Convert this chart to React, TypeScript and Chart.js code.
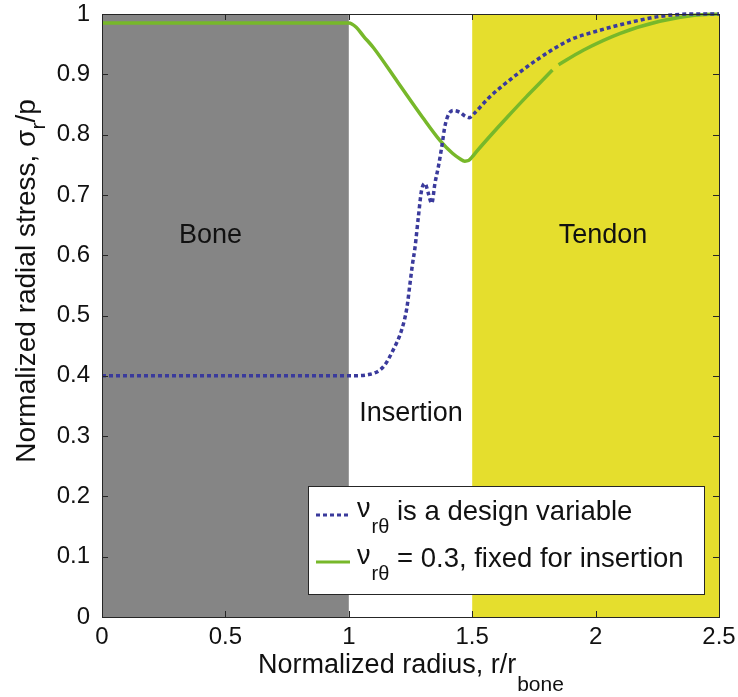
import React, { useEffect, useRef } from "react";
import { Chart, registerables } from "chart.js";

Chart.register(...registerables);

// ---- data ----
const blueX = [0, 0.5, 1.0, 1.08, 1.14, 1.18, 1.214, 1.235, 1.248, 1.258, 1.268, 1.282, 1.295, 1.309, 1.322, 1.336, 1.349, 1.363, 1.376, 1.39, 1.405, 1.425, 1.45, 1.47, 1.488, 1.51, 1.57, 1.626, 1.762, 1.896, 2.0, 2.099, 2.26, 2.39, 2.5];
const blueY = [0.4, 0.4, 0.4, 0.402, 0.415, 0.443, 0.476, 0.512, 0.553, 0.585, 0.612, 0.664, 0.708, 0.719, 0.703, 0.686, 0.719, 0.747, 0.778, 0.815, 0.834, 0.84, 0.837, 0.831, 0.828, 0.836, 0.862, 0.882, 0.924, 0.957, 0.971, 0.982, 0.996, 1.0, 1.0];

const greenX = [0, 0.5, 1.0, 1.03, 1.06, 1.1, 1.2, 1.3, 1.37, 1.42, 1.45, 1.47, 1.485, 1.5, 1.52, 1.58, 1.64, 1.72, 1.775, 1.825, 1.838, 1.85, 1.95, 2.1, 2.26, 2.4, 2.5];
const greenY = [0.985, 0.985, 0.985, 0.978, 0.963, 0.944, 0.886, 0.828, 0.79, 0.769, 0.76, 0.756, 0.757, 0.763, 0.773, 0.801, 0.828, 0.863, 0.886, 0.907, null, 0.916, 0.94, 0.968, 0.988, 0.998, 1.0];

const xTicks = [0, 0.5, 1, 1.5, 2, 2.5];
const xTickLabels = ["0", "0.5", "1", "1.5", "2", "2.5"];
const yTicks = [0, 0.1, 0.2, 0.3, 0.4, 0.5, 0.6, 0.7, 0.8, 0.9, 1];
const yTickLabels = ["0", "0.1", "0.2", "0.3", "0.4", "0.5", "0.6", "0.7", "0.8", "0.9", "1"];

const regionNames = ["Bone", "Insertion", "Tendon"];
const regionStart = [0, 1, 1.5];
const regionEnd = [1, 1.5, 2.5];
const regionLabelX = [0.44, 1.252, 2.03];
const regionLabelY = [0.633, 0.338, 0.633];

const legendSymbol = "\u03BD";
const legendSub = "r\u03B8";
const legendTexts = ["is a design variable", "= 0.3, fixed for insertion"];

// ---- styles ----
const FONT = '"Liberation Sans", Arial, Helvetica, sans-serif';
const regionFill = ["#858585", null, "#e5de2d"];
const BLUE = "#3a3a9c";
const GREEN = "#77b82a";
const AXIS = "#262626";

const decor = {
  id: "decor",
  beforeDatasetsDraw(chart: any) {
    const { ctx, chartArea, scales } = chart;
    const x = scales.x;
    ctx.save();
    for (let i = 0; i < regionNames.length; i++) {
      const f = regionFill[i];
      if (!f) continue;
      const x0 = x.getPixelForValue(regionStart[i]);
      const x1 = x.getPixelForValue(regionEnd[i]);
      ctx.fillStyle = f;
      ctx.fillRect(x0, chartArea.top, x1 - x0, chartArea.bottom - chartArea.top);
    }
    ctx.restore();
  },
  afterDraw(chart: any) {
    const { ctx, chartArea, scales } = chart;
    const x = scales.x;
    const y = scales.y;
    const { left, right, top, bottom } = chartArea;
    ctx.save();

    // region labels
    ctx.fillStyle = "#111";
    ctx.font = `27px ${FONT}`;
    ctx.textAlign = "center";
    ctx.textBaseline = "middle";
    for (let i = 0; i < regionNames.length; i++) {
      ctx.fillText(regionNames[i], x.getPixelForValue(regionLabelX[i]), y.getPixelForValue(regionLabelY[i]));
    }

    // box + inward ticks
    ctx.strokeStyle = AXIS;
    ctx.lineWidth = 1;
    ctx.strokeRect(Math.round(left) + 0.5, Math.round(top) + 0.5, Math.round(right - left), Math.round(bottom - top));
    const tl = 6;
    ctx.beginPath();
    for (const v of xTicks) {
      const px = Math.round(x.getPixelForValue(v)) + 0.5;
      ctx.moveTo(px, bottom);
      ctx.lineTo(px, bottom - tl);
      ctx.moveTo(px, top);
      ctx.lineTo(px, top + tl);
    }
    for (const v of yTicks) {
      const py = Math.round(y.getPixelForValue(v)) + 0.5;
      ctx.moveTo(left, py);
      ctx.lineTo(left + tl, py);
      ctx.moveTo(right, py);
      ctx.lineTo(right - tl, py);
    }
    ctx.stroke();

    // legend
    const lw = 396;
    const lh = 108;
    const lx = right - 15 - lw;
    const ly = bottom - 23 - lh;
    ctx.fillStyle = "#ffffff";
    ctx.fillRect(lx, ly, lw, lh);
    ctx.strokeStyle = AXIS;
    ctx.strokeRect(Math.round(lx) + 0.5, Math.round(ly) + 0.5, lw, lh);
    const rows = [ly + 26, ly + 73];
    const colors = [BLUE, GREEN];
    for (let i = 0; i < 2; i++) {
      const ry = rows[i];
      ctx.beginPath();
      ctx.strokeStyle = colors[i];
      ctx.lineWidth = 3;
      ctx.setLineDash(i === 0 ? [4, 3] : []);
      ctx.moveTo(lx + 8, ry + 3);
      ctx.lineTo(lx + 42, ry + 3);
      ctx.stroke();
      ctx.setLineDash([]);
      ctx.fillStyle = "#111";
      ctx.textAlign = "left";
      ctx.textBaseline = "middle";
      ctx.font = `27px ${FONT}`;
      ctx.fillText(legendSymbol, lx + 49, ry - 2);
      const nuW = ctx.measureText(legendSymbol).width;
      ctx.font = `20px ${FONT}`;
      ctx.fillText(legendSub, lx + 49 + nuW + 1, ry + 15);
      ctx.font = `27.5px ${FONT}`;
      ctx.fillText(legendTexts[i], lx + 89, ry);
    }

    // x title
    ctx.fillStyle = "#111";
    ctx.textBaseline = "middle";
    ctx.textAlign = "left";
    const xMain = "Normalized radius, r/r";
    const xSub = "bone";
    ctx.font = `27px ${FONT}`;
    const w1 = ctx.measureText(xMain).width;
    ctx.font = `21px ${FONT}`;
    const w2 = ctx.measureText(xSub).width;
    const cx = (left + right) / 2;
    const sx = cx - (w1 + w2) / 2;
    ctx.font = `27px ${FONT}`;
    ctx.fillText(xMain, sx, 666);
    ctx.font = `21px ${FONT}`;
    ctx.fillText(xSub, sx + w1 + 1, 685);

    // y title
    const yMain = "Normalized radial stress, \u03C3";
    const ySub = "r";
    const yEnd = "/p";
    ctx.font = `28px ${FONT}`;
    const a1 = ctx.measureText(yMain).width;
    const a3 = ctx.measureText(yEnd).width;
    ctx.font = `21px ${FONT}`;
    const a2 = ctx.measureText(ySub).width;
    const total = a1 + a2 + a3;
    ctx.translate(27, 281);
    ctx.rotate(-Math.PI / 2);
    const s0 = -total / 2;
    ctx.font = `28px ${FONT}`;
    ctx.fillText(yMain, s0, 0);
    ctx.font = `21px ${FONT}`;
    ctx.fillText(ySub, s0 + a1, 12);
    ctx.font = `28px ${FONT}`;
    ctx.fillText(yEnd, s0 + a1 + a2, 0);

    ctx.restore();
  },
};

export default function App() {
  const ref = useRef<HTMLCanvasElement | null>(null);
  useEffect(() => {
    document.body.style.margin = "0";
    const canvas = ref.current;
    if (!canvas) return;
    const chart = new Chart(canvas, {
      type: "line",
      data: {
        datasets: [
          {
            label: "blue",
            data: blueX.map((v, i) => ({ x: v, y: blueY[i] })),
            borderColor: BLUE,
            borderWidth: 3.5,
            borderDash: [4, 3],
            pointRadius: 0,
            cubicInterpolationMode: "monotone",
            fill: false,
            clip: 4,
          },
          {
            label: "green",
            data: greenX.map((v, i) => ({ x: v, y: greenY[i] })),
            borderColor: GREEN,
            borderWidth: 3.5,
            pointRadius: 0,
            cubicInterpolationMode: "monotone",
            spanGaps: false,
            fill: false,
            clip: 4,
          },
        ],
      } as any,
      options: {
        responsive: false,
        animation: false,
        events: [],
        layout: { padding: { top: 14, right: 19, left: 0, bottom: 0 } },
        plugins: { legend: { display: false }, tooltip: { enabled: false }, title: { display: false } },
        scales: {
          x: {
            type: "linear",
            min: 0,
            max: 2.5,
            afterBuildTicks: (s: any) => {
              s.ticks = xTicks.map((v) => ({ value: v }));
            },
            afterFit: (s: any) => {
              s.height = 80;
              s.paddingLeft = 0;
              s.paddingRight = 0;
              s.paddingTop = 0;
              s.paddingBottom = 0;
            },
            ticks: {
              color: "#111",
              font: { family: FONT, size: 24 },
              padding: 6,
              maxRotation: 0,
              autoSkip: false,
              callback: (v: any) => {
                const i = xTicks.findIndex((t) => Math.abs(t - v) < 1e-9);
                return i >= 0 ? xTickLabels[i] : "";
              },
            },
            grid: { display: false, drawTicks: false },
            border: { display: false },
          },
          y: {
            type: "linear",
            min: 0,
            max: 1,
            afterBuildTicks: (s: any) => {
              s.ticks = yTicks.map((v) => ({ value: v }));
            },
            afterFit: (s: any) => {
              s.width = 102;
              s.paddingLeft = 0;
              s.paddingRight = 0;
              s.paddingTop = 0;
              s.paddingBottom = 0;
            },
            ticks: {
              color: "#111",
              font: { family: FONT, size: 24 },
              padding: 12,
              autoSkip: false,
              callback: (v: any) => {
                const i = yTicks.findIndex((t) => Math.abs(t - v) < 1e-9);
                return i >= 0 ? yTickLabels[i] : "";
              },
            },
            grid: { display: false, drawTicks: false },
            border: { display: false },
          },
        },
      } as any,
      plugins: [decor],
    });
    return () => chart.destroy();
  }, []);
  return (
    <div style={{ width: 738, height: 697 }}>
      <canvas ref={ref} width={738} height={697} style={{ display: "block" }} />
    </div>
  );
}
